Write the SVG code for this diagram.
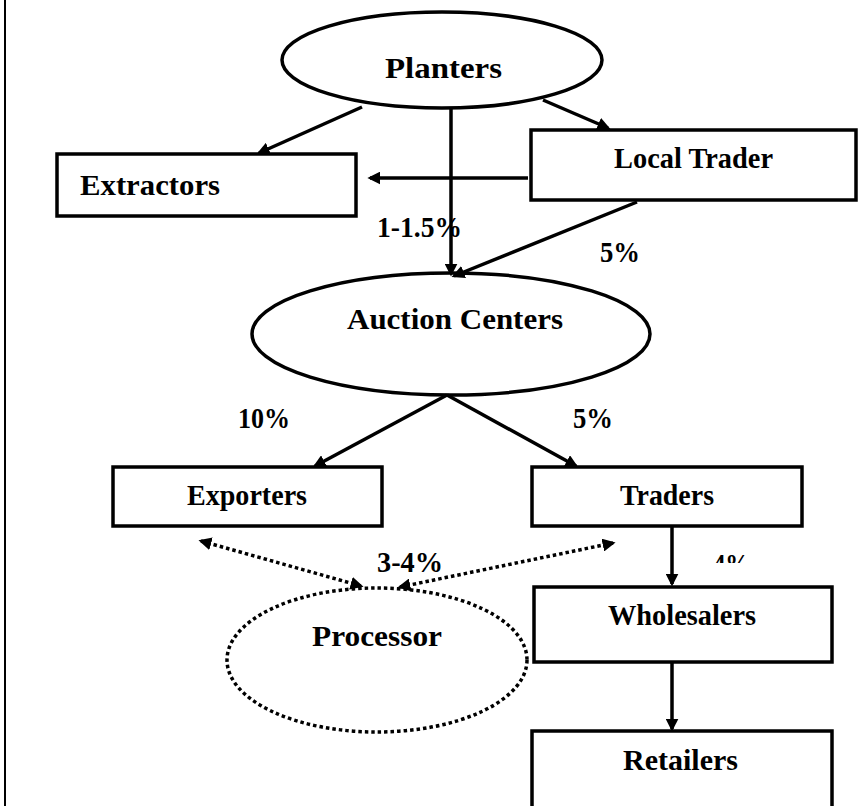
<svg xmlns="http://www.w3.org/2000/svg" width="858" height="806" viewBox="0 0 858 806">
<style>
.shape{fill:#fff;stroke:#000;stroke-width:3.5}
.dot{fill:none;stroke:#000;stroke-width:3.5;stroke-dasharray:3.5 3}
.ln{stroke:#000;stroke-width:3.5;fill:none}
text{font-family:"Liberation Serif","Times New Roman",serif;font-weight:bold;fill:#000;font-size:29px}
</style>
<defs>
<marker id="ah" viewBox="0 0 10 10" refX="8" refY="5" markerWidth="13" markerHeight="13" markerUnits="userSpaceOnUse" orient="auto-start-reverse">
<path d="M0,0 L10,5 L0,10 z" fill="#000"/>
</marker>
<clipPath id="clip4"><rect x="700" y="540" width="80" height="23"/></clipPath>
</defs>
<rect width="858" height="806" fill="#fff"/>
<line x1="5" y1="0" x2="5" y2="806" stroke="#000" stroke-width="2"/>

<g id="planters">
<ellipse class="shape" cx="442" cy="60" rx="160" ry="48"/>
<text x="385" y="78" font-size="33" textLength="117" lengthAdjust="spacingAndGlyphs">Planters</text>
</g>
<g id="extractors">
<rect class="shape" x="57" y="154" width="299" height="62"/>
<text x="80" y="195" textLength="140" lengthAdjust="spacingAndGlyphs">Extractors</text>
</g>
<g id="local-trader">
<rect class="shape" x="531" y="130" width="325" height="70"/>
<text x="614" y="168" font-size="28" textLength="159" lengthAdjust="spacingAndGlyphs">Local Trader</text>
</g>
<g id="auction-centers">
<ellipse class="shape" cx="451" cy="334" rx="199" ry="61"/>
<text x="347" y="329" font-size="31" textLength="216" lengthAdjust="spacingAndGlyphs">Auction Centers</text>
</g>
<g id="exporters">
<rect class="shape" x="113" y="467" width="269" height="59"/>
<text x="187" y="505" font-size="28" textLength="120" lengthAdjust="spacingAndGlyphs">Exporters</text>
</g>
<g id="traders">
<rect class="shape" x="532" y="467" width="270" height="59"/>
<text x="620" y="505" font-size="28" textLength="94" lengthAdjust="spacingAndGlyphs">Traders</text>
</g>
<g id="processor">
<ellipse class="dot" cx="377" cy="660" rx="150" ry="72"/>
<text x="312" y="646" textLength="130" lengthAdjust="spacingAndGlyphs">Processor</text>
</g>
<g id="wholesalers">
<rect class="shape" x="534" y="587" width="298" height="75"/>
<text x="608" y="625" font-size="28" textLength="148" lengthAdjust="spacingAndGlyphs">Wholesalers</text>
</g>
<g id="retailers">
<rect class="shape" x="532" y="731" width="300" height="90"/>
<text x="623" y="770" textLength="115" lengthAdjust="spacingAndGlyphs">Retailers</text>
</g>

<g id="connectors">
<line class="ln" x1="362" y1="107" x2="259" y2="153" marker-end="url(#ah)"/>
<line class="ln" x1="528" y1="178" x2="370" y2="178" marker-end="url(#ah)"/>
<line class="ln" x1="543" y1="100" x2="608" y2="128" marker-end="url(#ah)"/>
<line class="ln" x1="451" y1="108" x2="451" y2="274" marker-end="url(#ah)"/>
<line class="ln" x1="637" y1="202" x2="454" y2="276" marker-end="url(#ah)"/>
<line class="ln" x1="447" y1="395" x2="315" y2="466" marker-end="url(#ah)"/>
<line class="ln" x1="447" y1="395" x2="576" y2="466" marker-end="url(#ah)"/>
<line class="ln" x1="672" y1="526" x2="672" y2="584" marker-end="url(#ah)"/>
<line class="ln" x1="672" y1="662" x2="672" y2="729" marker-end="url(#ah)"/>
<line class="dot" x1="201" y1="541" x2="361" y2="586" marker-start="url(#ah)" marker-end="url(#ah)"/>
<line class="dot" x1="400" y1="587" x2="613" y2="543" marker-start="url(#ah)" marker-end="url(#ah)"/>
</g>

<g id="labels">
<text x="377" y="237" textLength="85" lengthAdjust="spacingAndGlyphs">1-1.5%</text>
<text x="600" y="262" textLength="40" lengthAdjust="spacingAndGlyphs">5%</text>
<text x="238" y="428" textLength="52" lengthAdjust="spacingAndGlyphs">10%</text>
<text x="573" y="428" textLength="40" lengthAdjust="spacingAndGlyphs">5%</text>
<text x="377" y="572" textLength="66" lengthAdjust="spacingAndGlyphs">3-4%</text>
<text x="713" y="574" textLength="37" lengthAdjust="spacingAndGlyphs" clip-path="url(#clip4)">4%</text>
</g>
</svg>
